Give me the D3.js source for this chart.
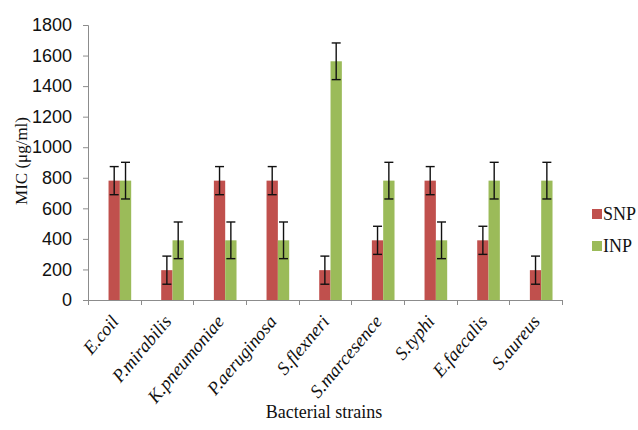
<!DOCTYPE html>
<html>
<head>
<meta charset="utf-8">
<script src="https://cdn.jsdelivr.net/npm/d3@7"></script>
<style>
  html, body { margin: 0; padding: 0; background: #fff; }
  svg { display: block; }
</style>
</head>
<body>
<svg id="chart" width="638" height="430"></svg>
<script>
const categories = ["E.coil", "P.mirabilis", "K.pneumoniae", "P.aeruginosa", "S.flexneri", "S.marcesence", "S.typhi", "E.faecalis", "S.aureus"];
const seriesNames = ["SNP", "INP"];
const snpValues = [781.25, 195.31, 781.25, 781.25, 195.31, 390.63, 781.25, 390.63, 195.31];
const inpValues = [781.25, 390.63, 390.63, 390.63, 1562.5, 781.25, 390.63, 781.25, 781.25];
const snpErrors = [92, 92, 92, 92, 92, 92, 92, 92, 92];
const inpErrors = [120, 120, 120, 120, 120, 120, 120, 120, 120];
const yTicks = [0, 200, 400, 600, 800, 1000, 1200, 1400, 1600, 1800];
const colors = ["#C0504D", "#9BBB59"];

const svg = d3.select("#chart");
const axisColor = "#8c8c8c";

const x = d3.scaleBand().domain(categories).range([88, 562]).padding(0);
const y = d3.scaleLinear().domain([0, 1800]).range([300, 25]);
const bw = x.bandwidth();
const barW = bw * 0.215;
const barStart = bw * 0.39;

const series = [
  { name: seriesNames[0], values: snpValues, errors: snpErrors, color: colors[0] },
  { name: seriesNames[1], values: inpValues, errors: inpErrors, color: colors[1] }
];

// Y axis
const yAxis = svg.append("g").attr("transform", "translate(88,0)")
  .call(d3.axisLeft(y).tickValues(yTicks).tickSize(5).tickPadding(11).tickFormat(d3.format("d")));
yAxis.selectAll("path, line").attr("stroke", axisColor);
yAxis.selectAll("text").attr("font-family", "Liberation Sans, Arial, sans-serif").attr("font-size", 18).attr("fill", "#111");

// Bars
series.forEach((s, si) => {
  const g = svg.append("g");
  g.selectAll("rect").data(categories).enter().append("rect")
    .attr("x", c => x(c) + barStart + si * barW)
    .attr("y", (c, i) => y(s.values[i]))
    .attr("width", barW)
    .attr("height", (c, i) => y(0) - y(s.values[i]))
    .attr("fill", s.color);
});

// Error bars
series.forEach((s, si) => {
  const g = svg.append("g").attr("stroke", "#111").attr("stroke-width", 1.4);
  categories.forEach((c, i) => {
    const cx = x(c) + barStart + si * barW + barW / 2;
    const top = y(s.values[i] + s.errors[i]);
    const bot = y(s.values[i] - s.errors[i]);
    g.append("line").attr("x1", cx).attr("x2", cx).attr("y1", top).attr("y2", bot);
    g.append("line").attr("x1", cx - 4.5).attr("x2", cx + 4.5).attr("y1", top).attr("y2", top);
    g.append("line").attr("x1", cx - 4.5).attr("x2", cx + 4.5).attr("y1", bot).attr("y2", bot);
  });
});

// X axis
const xAxisG = svg.append("g").attr("transform", "translate(0,300)");
xAxisG.append("line").attr("x1", 88).attr("x2", 562).attr("y1", 0.5).attr("y2", 0.5).attr("stroke", axisColor);
const boundaries = categories.map(c => x(c)).concat([x.range()[1]]);
xAxisG.selectAll("line.tick").data(boundaries).enter().append("line")
  .attr("class", "tick")
  .attr("x1", d => Math.round(d) + 0.5).attr("x2", d => Math.round(d) + 0.5)
  .attr("y1", 0).attr("y2", 5).attr("stroke", axisColor);

// X labels
svg.append("g").selectAll("text").data(categories).enter().append("text")
  .attr("transform", c => `translate(${x(c) + bw * 0.6},${322}) rotate(-50)`)
  .attr("text-anchor", "end")
  .attr("font-family", "Liberation Serif, Times New Roman, serif")
  .attr("font-style", "italic")
  .attr("font-size", 18.5)
  .attr("fill", "#111")
  .text(c => c);

// Axis titles
svg.append("text")
  .attr("transform", "translate(27,161) rotate(-90)")
  .attr("text-anchor", "middle")
  .attr("font-family", "Liberation Serif, Times New Roman, serif")
  .attr("font-size", 17)
  .attr("fill", "#111")
  .text("MIC (μg/ml)");

svg.append("text")
  .attr("x", 324).attr("y", 418)
  .attr("text-anchor", "middle")
  .attr("font-family", "Liberation Serif, Times New Roman, serif")
  .attr("font-size", 18)
  .attr("fill", "#111")
  .text("Bacterial strains");

// Legend
const legend = svg.append("g");
series.forEach((s, i) => {
  const ly = 209 + i * 32;
  legend.append("rect").attr("x", 592).attr("y", ly).attr("width", 10).attr("height", 10).attr("fill", s.color);
  legend.append("text").attr("x", 603).attr("y", ly + 11)
    .attr("font-family", "Liberation Serif, Times New Roman, serif")
    .attr("font-size", 18).attr("fill", "#111").text(s.name);
});
</script>
</body>
</html>
